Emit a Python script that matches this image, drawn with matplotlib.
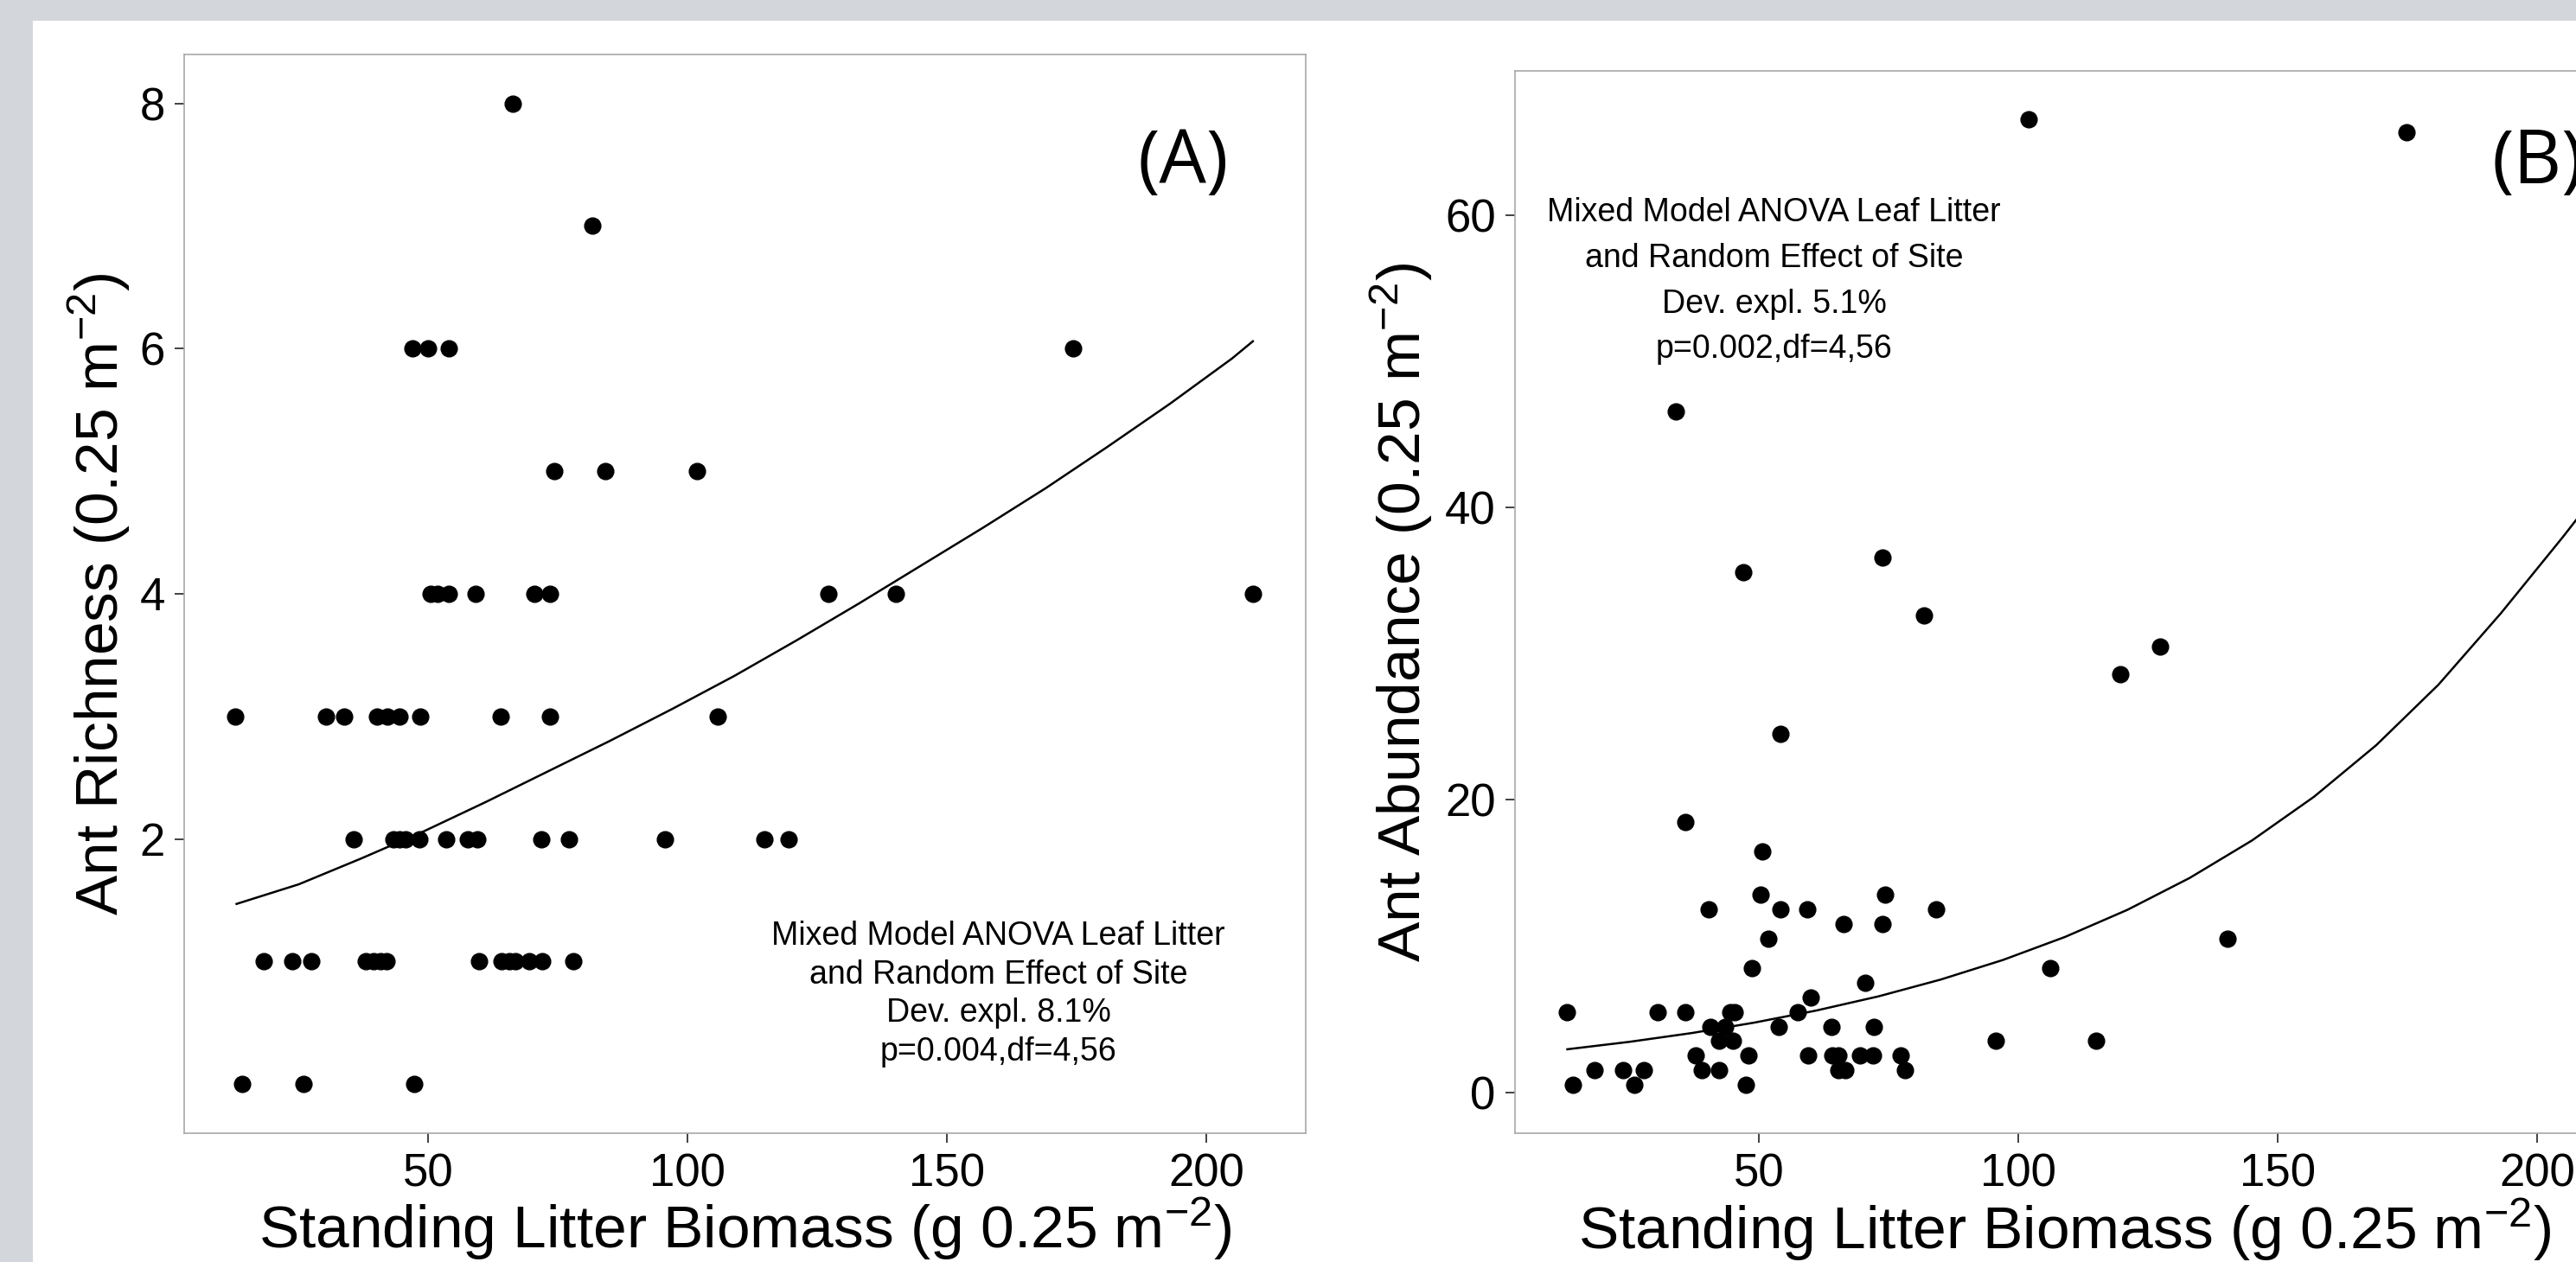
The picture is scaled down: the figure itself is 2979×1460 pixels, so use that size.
import matplotlib
matplotlib.use("Agg")
import matplotlib.pyplot as plt
from matplotlib.patches import Rectangle

plt.rcParams['font.family'] = ['Liberation Sans', 'DejaVu Sans']
plt.rcParams['mathtext.fontset'] = 'custom'
plt.rcParams['mathtext.rm'] = 'Liberation Sans'
plt.rcParams['mathtext.default'] = 'regular'

# (A) ant richness vs standing litter biomass
rich_x = [66.2, 81.6,
          47.0, 50.0, 54.0, 174.3,
          74.2, 84.1, 101.8,
          50.5, 51.8, 54.0, 59.1, 70.4, 73.5, 127.2, 140.1, 209.0,
          12.7, 30.3, 33.8, 40.1, 42.1, 44.4, 48.5, 63.9, 73.5, 105.8,
          35.6, 43.3, 44.4, 45.6, 48.2, 53.5, 57.6, 59.5, 71.7, 77.1, 95.6, 114.8, 119.5,
          18.3, 23.8, 27.4, 38.0, 39.4, 40.8, 42.0, 59.8, 64.1, 65.6, 66.8, 69.4, 72.0, 77.9,
          14.0, 25.9, 47.3]
rich_y = [8, 7,
          6, 6, 6, 6,
          5, 5, 5,
          4, 4, 4, 4, 4, 4, 4, 4, 4,
          3, 3, 3, 3, 3, 3, 3, 3, 3, 3,
          2, 2, 2, 2, 2, 2, 2, 2, 2, 2, 2, 2, 2,
          1, 1, 1, 1, 1, 1, 1, 1, 1, 1, 1, 1, 1, 1,
          0, 0, 0]

# fitted line, values
rich_fit_x = [13, 25, 37, 49, 61, 73, 85, 97, 109, 121, 133, 145, 157, 169, 181, 193, 205, 209]
rich_fit_y = [1.47, 1.63, 1.84, 2.06, 2.30, 2.55, 2.80, 3.06, 3.33, 3.62, 3.92, 4.23,
              4.54, 4.86, 5.20, 5.55, 5.92, 6.06]

# (B) ant abundance vs standing litter biomass
abun_x = [102.0, 174.9, 33.9, 47.0, 73.7, 81.8, 127.3, 119.7, 54.1, 35.7,
          50.6, 50.2, 74.3, 40.3, 54.1, 59.2, 84.2, 66.3, 73.7, 51.7,
          140.3, 48.6, 106.1, 209.4, 70.5, 59.9,
          12.9, 30.4, 35.7, 44.4, 45.3, 57.5,
          40.6, 43.4, 53.8, 64.0, 72.1,
          42.2, 45.0, 95.6, 114.9,
          37.8, 48.0, 59.4, 64.1, 65.2, 69.4, 71.9, 77.3,
          18.3, 23.7, 27.7, 39.0, 42.2, 65.2, 66.6, 78.1,
          14.0, 26.0, 47.5]
abun_y = [66.6, 65.7, 46.6, 35.6, 36.6, 32.6, 30.5, 28.6, 24.5, 18.5,
          16.5, 13.5, 13.5, 12.5, 12.5, 12.5, 12.5, 11.5, 11.5, 10.5,
          10.5, 8.5, 8.5, 8.5, 7.5, 6.5,
          5.5, 5.5, 5.5, 5.5, 5.5, 5.5,
          4.5, 4.5, 4.5, 4.5, 4.5,
          3.5, 3.5, 3.5, 3.5,
          2.5, 2.5, 2.5, 2.5, 2.5, 2.5, 2.5, 2.5,
          1.5, 1.5, 1.5, 1.5, 1.5, 1.5, 1.5, 1.5,
          0.5, 0.5, 0.5]

abun_fit_x = [13, 25, 37, 49, 61, 73, 85, 97, 109, 121, 133, 145, 157, 169, 181, 193, 205, 209.4]
abun_fit_y = [2.94, 3.45, 4.05, 4.76, 5.59, 6.56, 7.71, 9.05, 10.63, 12.48, 14.66, 17.22,
              20.22, 23.75, 27.89, 32.76, 38.0, 40.0]

x_ticks = [50, 100, 150, 200]
rich_ticks = [2, 4, 6, 8]
abun_ticks = [0, 20, 40, 60]

xlab = 'Standing Litter Biomass (g 0.25 m$^{-2}$)'
stats_a = 'Mixed Model ANOVA Leaf Litter\nand Random Effect of Site\nDev. expl. 8.1%\np=0.004,df=4,56'
stats_b = 'Mixed Model ANOVA Leaf Litter\nand Random Effect of Site\nDev. expl. 5.1%\np=0.002,df=4,56'

fig = plt.figure(figsize=(29.79, 14.60), dpi=100)
fig.patch.set_facecolor('#d3d6db')
# white page area (screenshot has a grey border top and left)
fig.add_artist(Rectangle((38 / 2979, 0), 1, (1460 - 24) / 1460,
                         transform=fig.transFigure, facecolor='white',
                         edgecolor='none', zorder=0))

ax1 = fig.add_axes([0.0715, 0.1021, 0.4354, 0.8548])
ax2 = fig.add_axes([0.5881, 0.1021, 0.4354, 0.8418])


def style(ax):
    for s in ax.spines.values():
        s.set_color('#a8a8a8')
        s.set_linewidth(1.2)
    ax.tick_params(labelsize=38, length=8, width=1.3, color='#333333', pad=8)
    ax.set_xlim(2.9, 219.2)
    ax.set_xticks(x_ticks)


# panel A
ax1.plot(rich_x, rich_y, 'o', color='black', markersize=13.5, zorder=3)
ax1.plot(rich_fit_x, rich_fit_y, color='black', linewidth=1.8)
style(ax1)
ax1.set_ylim(-0.4, 8.4)
ax1.set_yticks(rich_ticks)
ax1.set_xlabel(xlab, fontsize=50)
ax1.set_ylabel('Ant Richness (0.25 m$^{-2}$)', fontsize=50)
ax1.xaxis.set_label_coords(0.5, -0.058)
ax1.yaxis.set_label_coords(-0.046, 0.5)
ax1.text(0.726, 0.129, stats_a, transform=ax1.transAxes, fontsize=27,
         ha='center', va='center', linespacing=1.31)
ax1.text(0.8905, 0.898, '(A)', transform=ax1.transAxes, fontsize=62,
         family='Open Sans', ha='center', va='center')

# panel B
ax2.plot(abun_x, abun_y, 'o', color='black', markersize=13.5, zorder=3)
ax2.plot(abun_fit_x, abun_fit_y, color='black', linewidth=1.8)
style(ax2)
ax2.set_ylim(-2.8, 69.9)
ax2.set_yticks(abun_ticks)
ax2.set_xlabel(xlab, fontsize=50)
ax2.set_ylabel('Ant Abundance (0.25 m$^{-2}$)', fontsize=50)
ax2.xaxis.set_label_coords(0.49, -0.06)
ax2.yaxis.set_label_coords(-0.072, 0.49)
ax2.text(0.231, 0.802, stats_b, transform=ax2.transAxes, fontsize=27,
         ha='center', va='center', linespacing=1.6)
ax2.text(0.871, 0.912, '(B)', transform=ax2.transAxes, fontsize=62,
         family='Open Sans', ha='left', va='center')

fig.savefig('out.png', dpi=100)
